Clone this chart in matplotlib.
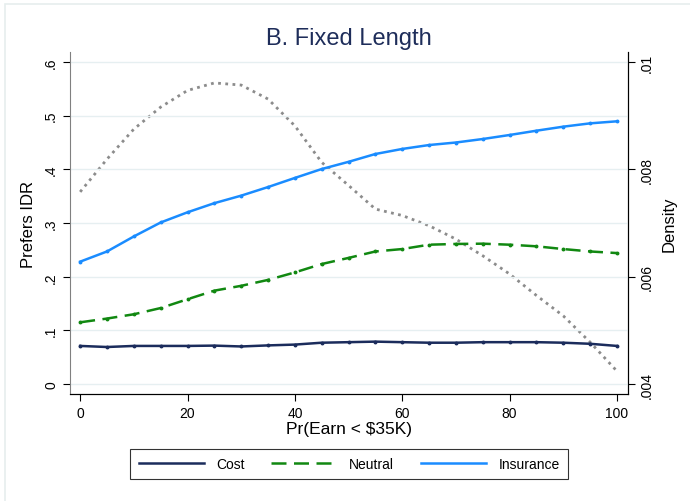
import numpy as np
import matplotlib.pyplot as plt
from matplotlib.patches import Rectangle

plt.rcParams['font.family'] = ['Liberation Sans', 'DejaVu Sans']

# Pr(Earn < $35K)
x = [0, 5, 10, 15, 20, 25, 30, 35, 40, 45, 50, 55, 60, 65, 70, 75, 80, 85, 90, 95, 100]

# Prefers IDR, by plan type
cost = [0.071, 0.069, 0.071, 0.071, 0.071, 0.0716, 0.070, 0.072, 0.0735, 0.077, 0.078,
        0.079, 0.078, 0.077, 0.077, 0.078, 0.078, 0.078, 0.077, 0.075, 0.071]
neutral = [0.115, 0.122, 0.130, 0.1416, 0.158, 0.174, 0.183, 0.194, 0.208, 0.2236, 0.235,
           0.247, 0.2515, 0.2596, 0.261, 0.2615, 0.2596, 0.2566, 0.2515, 0.247, 0.244]
insurance = [0.228, 0.247, 0.275, 0.301, 0.320, 0.337, 0.351, 0.367, 0.384, 0.4006, 0.414,
             0.4286, 0.438, 0.4453, 0.450, 0.4565, 0.464, 0.472, 0.4795, 0.4857, 0.4895]

# density of Pr(Earn < $35K) (right axis)
density = [0.00758, 0.00819, 0.00875, 0.00916, 0.00947, 0.00961, 0.00957, 0.00931, 0.00881,
           0.00813, 0.00770, 0.00726, 0.00714, 0.00695, 0.00670, 0.00639, 0.00605, 0.00565,
           0.00527, 0.00478, 0.00424]

fig = plt.figure(figsize=(6.9, 5.02), dpi=100)
fig.patches.append(Rectangle((5 / 690, -0.01), 1.0, 1.0 - 5 / 502 + 0.01,
                             transform=fig.transFigure, fill=False,
                             edgecolor='#e6eeee', linewidth=1.2))

ax = fig.add_axes([0.1014, 0.2131, 0.8087, 0.6813])
ax2 = ax.twinx()

# density goes behind the lines
ax.set_zorder(ax2.get_zorder() + 1)
ax.patch.set_visible(False)

ax2.plot(x, density, color='#8c8c8c', linewidth=2, linestyle=(0, (1.0, 1.6)))

ax.plot(x, cost, color='#1b2c5c', linewidth=1.8, marker='o', markersize=1.8, label='Cost')
ax.plot(x, neutral, color='#118811', linewidth=1.8, marker='o', markersize=1.8,
        linestyle=(0, (6, 3)), label='Neutral')
ax.plot(x, insurance, color='#1a8cff', linewidth=1.8, marker='o', markersize=1.8,
        label='Insurance')

ax.set_xlim(-1.9, 102.05)
ax.set_ylim(-0.0186, 0.6186)
ax2.set_ylim(0.003814, 0.010186)

yt = [0, 0.1, 0.2, 0.3, 0.4, 0.5, 0.6]
ax.set_yticks(yt)
ax.set_yticklabels(['0', '.1', '.2', '.3', '.4', '.5', '.6'], rotation=90, va='center')
ax2.set_yticks([0.004, 0.006, 0.008, 0.010])
ax2.set_yticklabels(['.004', '.006', '.008', '.01'], rotation=90, va='center')
ax.set_xticks([0, 20, 40, 60, 80, 100])

ax.grid(axis='y', color='#e6eff1', linewidth=1.0)
ax.set_axisbelow(True)

for a in (ax, ax2):
    a.tick_params(labelsize=10, length=5, width=0.8, colors='black')
    a.spines['top'].set_visible(False)
ax.spines['left'].set_color('#808080')
ax2.spines['left'].set_visible(False)

ax.set_xlabel('Pr(Earn < $35K)', fontsize=12.5, labelpad=1)
ax.set_ylabel('Prefers IDR', fontsize=12, labelpad=6)
ax2.set_ylabel('Density', fontsize=12, labelpad=6)
ax.set_title('B. Fixed Length', fontsize=17, color='#1e2d5a', pad=6)

leg = fig.legend(loc='center', bbox_to_anchor=(0.506, 0.074), ncol=3, fontsize=10,
                 frameon=True, fancybox=False, edgecolor='black', handlelength=4.7,
                 columnspacing=1.9, handletextpad=0.9, borderpad=0.6, borderaxespad=0)
leg.get_frame().set_linewidth(0.8)
for h in leg.legend_handles:
    h.set_marker('')

fig.savefig('out.png', dpi=100, facecolor='white')
